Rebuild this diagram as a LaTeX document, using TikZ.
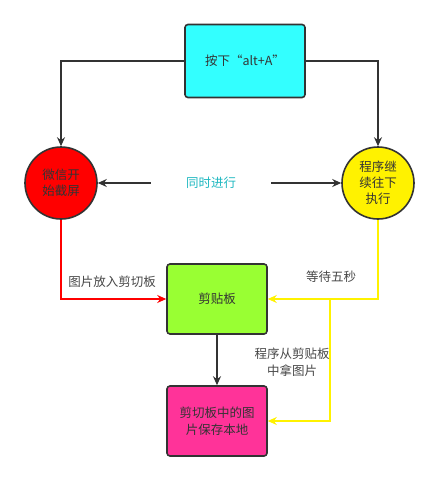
\documentclass[tikz,border=0pt]{standalone}
\usepackage{fontspec}
\setmainfont{Noto Sans CJK SC}
\usetikzlibrary{arrows.meta}
\definecolor{edge}{HTML}{333333}
\definecolor{boxcyan}{HTML}{33FFFF}
\definecolor{boxgreen}{HTML}{99FF33}
\definecolor{boxpink}{HTML}{FF3399}
\definecolor{txtcyan}{HTML}{1FB8C0}
\begin{document}
\begin{tikzpicture}
    [x=1pt,y=-1pt,
     box/.style={draw=edge,line width=1.6pt,rounded corners=3pt,minimum width=100pt,minimum height=70pt,align=center,font=\fontsize{12.5}{17}\selectfont,text=edge},
     round/.style={circle,draw=edge,line width=1.6pt,minimum size=72pt,inner sep=0pt,align=center,font=\fontsize{12.5}{16}\selectfont,text=edge},
     lbl/.style={font=\fontsize{12.5}{17}\selectfont,text=edge!90,align=center},
     link/.style={line width=1.6pt,-{Stealth[length=9pt,width=8pt]}}]
    \useasboundingbox (0,0) rectangle (438,482);
    \node[box,fill=boxcyan,minimum width=120pt,minimum height=73pt] (start) at (245,61) {按下“alt+A”};
    \node[round,fill=red] (shot) at (61,183) {微信开\\始截屏};
    \node[round,fill=yellow] (run) at (378,183) {程序继\\续往下\\执行};
    \node[font=\fontsize{12.5}{17}\selectfont,text=txtcyan,inner sep=0pt,minimum width=120pt,minimum height=20pt] (both) at (211,183) {同时进行};
    \node[box,fill=boxgreen] (clip) at (217,299) {剪贴板};
    \node[box,fill=boxpink] (save) at (217,421) {剪切板中的图\\片保存本地};
    \coordinate (fork) at (330,299);

    \draw[link,edge] (start.west) -| (shot.north);
    \draw[link,edge] (start.east) -| (run.north);
    \draw[link,edge] (both.west) -- (shot.east);
    \draw[link,edge] (both.east) -- (run.west);
    \draw[link,red] (shot.south) |- (clip.west);
    \draw[link,yellow] (run.south) |- (clip.east);
    \draw[link,yellow] (fork) |- (save.east);
    \draw[link,edge] (clip.south) -- (save.north);

    \node[lbl] at (112,282) {图片放入剪切板};
    \node[lbl] at (331,277) {等待五秒};
    \node[lbl] at (292,362) {程序从剪贴板\\中拿图片};
  \end{tikzpicture}
\end{document}
